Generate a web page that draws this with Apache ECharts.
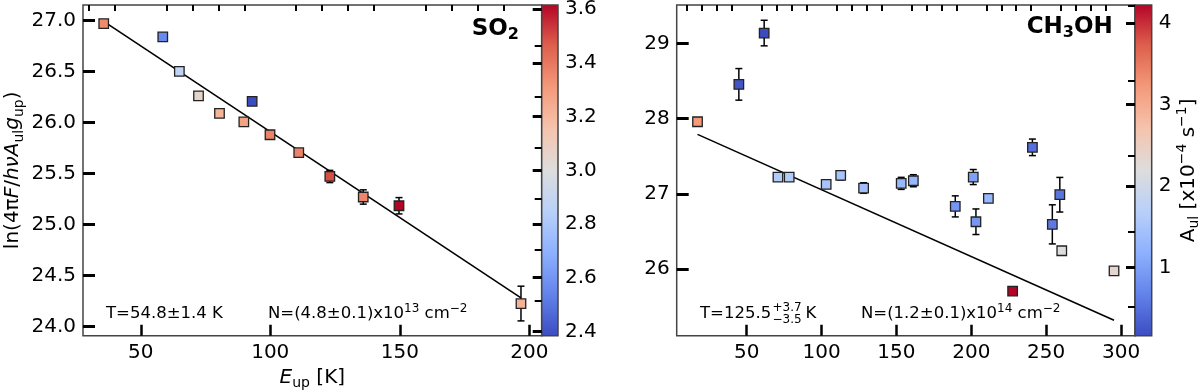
<!DOCTYPE html>
<html>
<head>
<meta charset="utf-8">
<script src="https://cdn.jsdelivr.net/npm/echarts@6/dist/echarts.min.js"></script>
<style>
  html, body { margin: 0; padding: 0; background: #fff; }
  #chart { width: 1200px; height: 391px; }
</style>
</head>
<body>
<div id="chart"></div>
<script>
// SO2 rotation diagram
const soEup = [35.7, 58.5, 64.9, 72.3, 80.4, 89.8, 93.0, 99.9, 111.0, 123.0, 135.9, 149.7, 196.8];
const soLnN = [26.968, 26.837, 26.50, 26.259, 26.088, 26.004, 26.206, 25.879, 25.703, 25.47, 25.269, 25.183, 24.225];
const soErr = [0.02, 0.02, 0.02, 0.03, 0.03, 0.03, 0.02, 0.03, 0.03, 0.06, 0.07, 0.08, 0.17];
const soAul = [3.35, 2.56, 2.88, 3.06, 3.21, 3.28, 2.384, 3.37, 3.37, 3.49, 3.36, 3.616, 3.22];
const soFitX = [35.7, 196.8];
const soFitY = [26.99, 24.28];

// CH3OH rotation diagram
const meEup = [17.2, 44.8, 61.7, 70.9, 78.4, 103.1, 112.8, 128.1, 153.2, 161.3, 189.3, 201.3, 203.1, 211.4, 227.6, 240.8, 254.1, 259.1, 260.4, 295.3];
const meLnN = [27.958, 28.455, 29.137, 27.223, 27.223, 27.126, 27.245, 27.077, 27.139, 27.174, 26.833, 27.223, 26.629, 26.94, 25.707, 27.618, 26.594, 26.988, 26.243, 25.977];
const meErr = [0.03, 0.21, 0.17, 0.02, 0.02, 0.03, 0.06, 0.07, 0.08, 0.08, 0.14, 0.10, 0.17, 0.02, 0.02, 0.11, 0.26, 0.23, 0.02, 0.02];
const meAul = [3.2, 0.25, 0.163, 1.6, 1.6, 1.5, 1.5, 1.4, 1.3, 1.3, 0.9, 1.0, 0.9, 1.3, 4.224, 0.5, 0.6, 0.55, 2.2, 2.35];
const meFitX = [17.2, 295.3];
const meFitY = [27.79, 25.32];

// ticks
const soXMajor = [50, 100, 150, 200];
const soXMinor = [30, 40, 60, 70, 80, 90, 110, 120, 130, 140, 160, 170, 180, 190];
const soYMajor = [24.0, 24.5, 25.0, 25.5, 26.0, 26.5, 27.0];
const soYMinor = [24.25, 24.75, 25.25, 25.75, 26.25, 26.75];
const soCbTicks = [2.4, 2.6, 2.8, 3.0, 3.2, 3.4, 3.6];
const meXMajor = [50, 100, 150, 200, 250, 300];
const meXMinor = [10, 20, 30, 40, 60, 70, 80, 90, 110, 120, 130, 140, 160, 170, 180, 190, 210, 220, 230, 240, 260, 270, 280, 290];
const meYMajor = [26, 27, 28, 29];
const meYMinor = [25.5, 26.5, 27.5, 28.5, 29.5];
const meCbTicks = [1, 2, 3, 4];

// coolwarm
const coolwarm = ['#3b4cc0', '#6282ea', '#8db0fe', '#b8d0f9', '#dddddd', '#f5c4ad', '#f49a7b', '#de604d', '#b40426'];

const FONT = 'DejaVu Sans';
const chart = echarts.init(document.getElementById('chart'));

function cbGradient() {
  const n = coolwarm.length - 1;
  return {
    type: 'linear', x: 0, y: 0, x2: 0, y2: 1,
    colorStops: coolwarm.slice().reverse().map((c, i) => ({ offset: i / n, color: c }))
  };
}

const baseRich = {
  n: { fontSize: 20, fontFamily: FONT, color: '#000', lineHeight: 26 },
  i: { fontSize: 20, fontFamily: FONT, color: '#000', fontStyle: 'italic', lineHeight: 26 },
  s: { fontSize: 14, fontFamily: FONT, color: '#000', lineHeight: 12, verticalAlign: 'bottom' },
  p: { fontSize: 14, fontFamily: FONT, color: '#000', lineHeight: 12, verticalAlign: 'top' }
};

function gridBox(left, width, bg) {
  return {
    left: left, top: 5, width: width, height: 330.7,
    show: true, borderColor: '#444', borderWidth: 1.5,
    backgroundColor: bg || 'transparent', outerBoundsMode: 'none'
  };
}

function valAxis(gridIndex, min, max, ticks, len, width, labels, fmt, extra) {
  return Object.assign({
    type: 'value', gridIndex: gridIndex, min: min, max: max,
    axisLine: { show: false },
    splitLine: { show: false },
    axisTick: { show: true, inside: true, length: len, customValues: ticks,
      lineStyle: { color: '#000', width: width } },
    axisLabel: { show: labels, customValues: ticks, fontSize: 20, fontFamily: FONT, color: '#000',
      margin: 7, formatter: fmt }
  }, extra || {});
}

function errRender(params, api) {
  const x = api.value(0), y = api.value(1), e = api.value(2);
  const t = api.coord([x, y + e]);
  const b = api.coord([x, y - e]);
  const cap = 3.5;
  const st = { stroke: '#000', lineWidth: 1.5 };
  return {
    type: 'group', children: [
      { type: 'line', shape: { x1: t[0], y1: t[1], x2: b[0], y2: b[1] }, style: st },
      { type: 'line', shape: { x1: t[0] - cap, y1: t[1], x2: t[0] + cap, y2: t[1] }, style: st },
      { type: 'line', shape: { x1: b[0] - cap, y1: b[1], x2: b[0] + cap, y2: b[1] }, style: st }
    ]
  };
}

const soPts = soEup.map((x, i) => [x, soLnN[i], soAul[i]]);
const soErrs = soEup.map((x, i) => [x, soLnN[i], soErr[i]]);
const mePts = meEup.map((x, i) => [x, meLnN[i], meAul[i]]);
const meErrs = meEup.map((x, i) => [x, meLnN[i], meErr[i]]);

const fmt1 = v => v.toFixed(1);
const fmt0 = v => String(Math.round(v));

const option = {
  animation: false,
  grid: [
    gridBox(83, 458.7),
    gridBox(541.7, 16.3, cbGradient()),
    gridBox(676.7, 458.3),
    gridBox(1135, 16.7, cbGradient())
  ],
  xAxis: [
    valAxis(0, 27.7, 204.8, soXMajor, 11, 2.5, true, fmt0, {
      name: '{i|E}{s|up}{n| [K]}', nameLocation: 'middle', nameGap: 24,
      nameTextStyle: { rich: baseRich }
    }),
    valAxis(0, 27.7, 204.8, soXMinor, 6, 2, false, fmt0),
    { type: 'value', gridIndex: 1, show: false, min: 0, max: 1 },
    valAxis(2, 3.3, 309.3, meXMajor, 11, 2.5, true, fmt0),
    valAxis(2, 3.3, 309.3, meXMinor, 6, 2, false, fmt0),
    { type: 'value', gridIndex: 3, show: false, min: 0, max: 1 }
  ],
  yAxis: [
    valAxis(0, 23.91, 27.15, soYMajor, 12, 3, true, fmt1, {
      name: '{n|ln(4π}{i|F}{n|/}{i|hνA}{s|ul}{i|g}{s|up}{n|)}',
      nameLocation: 'middle', nameGap: 57, nameRotate: 90,
      nameTextStyle: { rich: baseRich }
    }),
    valAxis(0, 23.91, 27.15, soYMinor, 7, 2, false, fmt1),
    valAxis(1, 2.384, 3.616, soCbTicks, 9, 3, true, fmt1, { position: 'right', z: 10 }),
    valAxis(2, 25.114, 29.51, meYMajor, 12, 3, true, fmt0),
    valAxis(2, 25.114, 29.51, meYMinor, 7, 2, false, fmt0),
    valAxis(3, 0.163, 4.224, meCbTicks, 9, 3, true, fmt0, {
      position: 'right', z: 10,
      name: '{n|A}{s|ul}{n| [x10}{p|−4}{n| s}{p|−1}{n|]}',
      nameLocation: 'middle', nameGap: 22, nameRotate: 90,
      nameTextStyle: { rich: baseRich }
    })
  ],
  visualMap: [
    { type: 'continuous', show: false, min: 2.384, max: 3.616, dimension: 2, seriesIndex: 2,
      inRange: { color: coolwarm } },
    { type: 'continuous', show: false, min: 0.163, max: 4.224, dimension: 2, seriesIndex: 5,
      inRange: { color: coolwarm } }
  ],
  series: [
    { type: 'line', xAxisIndex: 0, yAxisIndex: 0, z: 1, symbol: 'none',
      data: soFitX.map((x, i) => [x, soFitY[i]]),
      lineStyle: { color: '#000', width: 1.6 } },
    { type: 'custom', xAxisIndex: 0, yAxisIndex: 0, z: 2, renderItem: errRender,
      data: soErrs, encode: { x: 0, y: 1 } },
    { type: 'scatter', xAxisIndex: 0, yAxisIndex: 0, z: 3, symbol: 'rect', symbolSize: 9.5,
      data: soPts, itemStyle: { borderColor: '#222', borderWidth: 1.3, opacity: 1 } },
    { type: 'line', xAxisIndex: 3, yAxisIndex: 3, z: 1, symbol: 'none',
      data: meFitX.map((x, i) => [x, meFitY[i]]),
      lineStyle: { color: '#000', width: 1.6 } },
    { type: 'custom', xAxisIndex: 3, yAxisIndex: 3, z: 2, renderItem: errRender,
      data: meErrs, encode: { x: 0, y: 1 } },
    { type: 'scatter', xAxisIndex: 3, yAxisIndex: 3, z: 3, symbol: 'rect', symbolSize: 9.5,
      data: mePts, itemStyle: { borderColor: '#222', borderWidth: 1.3, opacity: 1 } }
  ],
  graphic: [
    { type: 'text', x: 519, y: 29, z: 20, style: {
      text: '{b|SO}{bs|2}', align: 'right', verticalAlign: 'middle',
      rich: {
        b: { fontSize: 23, fontWeight: 'bold', fontFamily: FONT, fill: '#000', lineHeight: 28 },
        bs: { fontSize: 16, fontWeight: 'bold', fontFamily: FONT, fill: '#000', lineHeight: 14, verticalAlign: 'bottom' }
      } } },
    { type: 'text', x: 1112.7, y: 27, z: 20, style: {
      text: '{b|CH}{bs|3}{b|OH}', align: 'right', verticalAlign: 'middle',
      rich: {
        b: { fontSize: 23, fontWeight: 'bold', fontFamily: FONT, fill: '#000', lineHeight: 28 },
        bs: { fontSize: 16, fontWeight: 'bold', fontFamily: FONT, fill: '#000', lineHeight: 14, verticalAlign: 'bottom' }
      } } },
    { type: 'text', x: 106, y: 314, z: 20, style: {
      text: 'T=54.8±1.4 K', fontSize: 16.5, fontFamily: FONT, fill: '#000', verticalAlign: 'middle' } },
    { type: 'text', x: 268, y: 314, z: 20, style: {
      text: '{a|N=(4.8±0.1)x10}{u|13}{a| cm}{u|−2}', verticalAlign: 'middle',
      rich: {
        a: { fontSize: 16.5, fontFamily: FONT, fill: '#000', lineHeight: 22 },
        u: { fontSize: 12, fontFamily: FONT, fill: '#000', lineHeight: 12, verticalAlign: 'top' }
      } } },
    { type: 'text', x: 700, y: 314, z: 20, style: {
      text: 'T=125.5', fontSize: 16.5, fontFamily: FONT, fill: '#000', verticalAlign: 'middle' } },
    { type: 'text', x: 772.5, y: 307.5, z: 20, style: {
      text: '+3.7', fontSize: 12, fontFamily: FONT, fill: '#000', verticalAlign: 'middle' } },
    { type: 'text', x: 772.5, y: 320, z: 20, style: {
      text: '−3.5', fontSize: 12, fontFamily: FONT, fill: '#000', verticalAlign: 'middle' } },
    { type: 'text', x: 805.5, y: 314, z: 20, style: {
      text: 'K', fontSize: 16.5, fontFamily: FONT, fill: '#000', verticalAlign: 'middle' } },
    { type: 'text', x: 861, y: 314, z: 20, style: {
      text: '{a|N=(1.2±0.1)x10}{u|14}{a| cm}{u|−2}', verticalAlign: 'middle',
      rich: {
        a: { fontSize: 16.5, fontFamily: FONT, fill: '#000', lineHeight: 22 },
        u: { fontSize: 12, fontFamily: FONT, fill: '#000', lineHeight: 12, verticalAlign: 'top' }
      } } }
  ]
};

chart.setOption(option);
</script>
</body>
</html>
